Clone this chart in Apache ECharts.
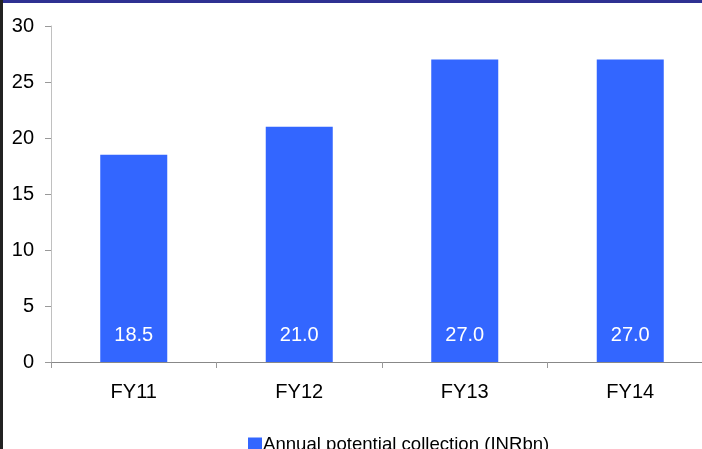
<!DOCTYPE html>
<html>
<head>
<meta charset="utf-8">
<script src="https://cdn.jsdelivr.net/npm/echarts@6/dist/echarts.min.js"></script>
<style>
  html, body { margin: 0; padding: 0; background: #fff; overflow: hidden; width: 702px; height: 449px; }
  #chart { width: 716px; height: 449px; }
</style>
</head>
<body>
<div id="chart"></div>
<script>
// Annual potential collection by fiscal year (INR bn)
const categories = ['FY11', 'FY12', 'FY13', 'FY14'];
const collection = [18.5, 21.0, 27.0, 27.0];
const seriesName = 'Annual potential collection (INRbn)';
const yTicks = { min: 0, max: 30, interval: 5 };

const chart = echarts.init(document.getElementById('chart'), null, { renderer: 'canvas' });
const font = 'Liberation Sans, Arial, sans-serif';

chart.setOption({
  animation: false,
  backgroundColor: '#ffffff',
  grid: { left: 51, top: 26, width: 662, height: 336, containLabel: false },
  legend: {
    data: [seriesName],
    left: 243,
    top: 430,
    icon: 'rect',
    itemWidth: 14,
    itemHeight: 14,
    itemGap: 0,
    textStyle: { fontFamily: font, fontSize: 18.6, color: '#000', padding: [0, 0, 0, -4] }
  },
  xAxis: {
    type: 'category',
    data: categories,
    axisLine: { lineStyle: { color: '#888', width: 1 } },
    axisTick: { show: true, length: 6, lineStyle: { color: '#999' } },
    axisLabel: { fontFamily: font, fontSize: 20, color: '#000', margin: 20 }
  },
  yAxis: {
    type: 'value',
    min: yTicks.min,
    max: yTicks.max,
    interval: yTicks.interval,
    axisLine: { show: true, lineStyle: { color: '#c0c0c0', width: 1 } },
    axisTick: { show: true, length: 6, lineStyle: { color: '#999' } },
    splitLine: { show: false },
    axisLabel: { fontFamily: font, fontSize: 20, color: '#000', margin: 17 }
  },
  series: [{
    name: seriesName,
    type: 'bar',
    data: collection,
    barWidth: 67,
    itemStyle: { color: '#3366ff' },
    label: {
      show: true,
      position: 'insideBottom',
      distance: 17,
      fontFamily: font,
      fontSize: 20,
      color: '#ffffff',
      formatter: p => p.value.toFixed(1)
    }
  }],
  graphic: [
    { type: 'rect', left: 0, top: 0, shape: { width: 716, height: 3 }, style: { fill: '#2e3192' }, z: 100 },
    { type: 'rect', left: 0, top: 0, shape: { width: 3, height: 449 }, style: { fill: '#222222' }, z: 100 }
  ]
});
</script>
</body>
</html>
